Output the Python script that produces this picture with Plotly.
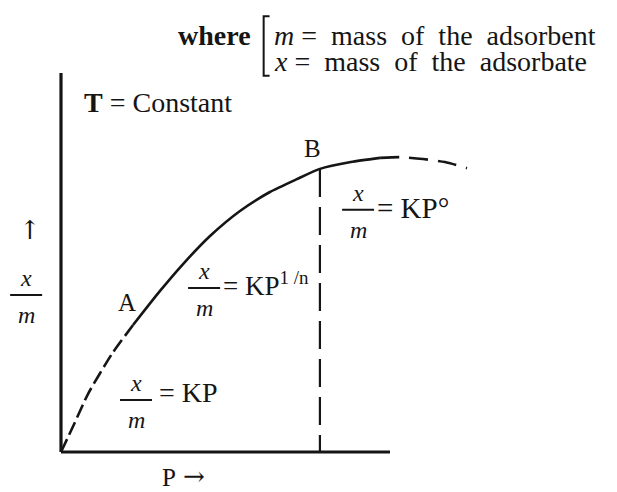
import plotly.graph_objects as go

# Freundlich adsorption isotherm: extent of adsorption x/m against pressure P
# low-pressure branch (x/m = KP), drawn dashed
P_low = [0.0, 0.40, 0.82, 1.55, 2.19]
XM_low = [0.0, 0.74, 1.53, 2.59, 3.35]
# intermediate branch (x/m = KP^(1/n)), drawn solid
P_mid = [2.19, 3.01, 3.71, 4.53, 5.44, 6.35, 7.17, 7.87, 8.81, 9.70]
XM_mid = [3.35, 4.25, 4.96, 5.70, 6.36, 6.86, 7.20, 7.47, 7.65, 7.76]
# saturation branch (x/m = KP^0), drawn dashed
P_high = [9.70, 10.30, 11.00, 11.67, 12.34]
XM_high = [7.76, 7.78, 7.73, 7.65, 7.49]

B_INDEX = 7            # point B on the intermediate branch
A_INDEX = 0            # point A where the solid branch starts
P_AXIS_END = 10.0
XM_AXIS_END = 10.0

W, H = 617, 492
X_RANGE = [-1.854, 16.9]
Y_RANGE = [-1.055, 11.926]

FONT = "Liberation Serif"
ARROW_FONT = "DejaVu Serif"
INK = "#151515"

fig = go.Figure()

# axes
fig.add_trace(go.Scatter(x=[0, P_AXIS_END], y=[0, 0], mode="lines",
                         line=dict(color=INK, width=3.2), hoverinfo="skip"))
fig.add_trace(go.Scatter(x=[0, 0], y=[0, XM_AXIS_END], mode="lines",
                         line=dict(color=INK, width=3.2), hoverinfo="skip"))

# isotherm branches
fig.add_trace(go.Scatter(x=P_low, y=XM_low, mode="lines",
                         line=dict(color=INK, width=2.6, dash="14px,5px",
                                   shape="spline", smoothing=0.6),
                         hoverinfo="skip"))
fig.add_trace(go.Scatter(x=P_mid, y=XM_mid, mode="lines",
                         line=dict(color=INK, width=2.6,
                                   shape="spline", smoothing=0.6),
                         hoverinfo="skip"))
fig.add_trace(go.Scatter(x=P_high, y=XM_high, mode="lines",
                         line=dict(color=INK, width=2.6, dash="19px,10px",
                                   shape="spline", smoothing=0.6),
                         hoverinfo="skip"))

# drop line from B to the pressure axis
P_B, XM_B = P_mid[B_INDEX], XM_mid[B_INDEX]
fig.add_trace(go.Scatter(x=[P_B, P_B], y=[XM_B, 0], mode="lines",
                         line=dict(color=INK, width=2.2, dash="28px,10px"),
                         hoverinfo="skip"))

annotations = []
shapes = []


def text(x, y, s, size=26, xanchor="center", xshift=0, yshift=0, family=FONT):
    annotations.append(dict(x=x, y=y, xref="x", yref="y", text=s,
                            showarrow=False, xanchor=xanchor, yanchor="middle",
                            xshift=xshift, yshift=yshift,
                            font=dict(family=family, size=size, color=INK)))


def frac(x, y, size=24, half=16):
    # x over m with a rule between them
    text(x, y, "<i>x</i>", size=size, yshift=17)
    text(x, y, "<i>m</i>", size=size, yshift=-20)
    shapes.append(dict(type="line", xref="x", yref="y", xsizemode="pixel",
                       xanchor=x, x0=-half, x1=half, y0=y, y1=y,
                       line=dict(color=INK, width=2)))


# legend of symbols
text(4.68, 11.0, "<b>where</b>", size=28)
text(6.40, 11.0, "<i>m</i> =  mass  of  the  adsorbent", size=28, xanchor="left")
text(6.40, 10.30, "<i>x</i> =  mass  of  the  adsorbate", size=28, xanchor="left")
shapes.append(dict(type="path", xref="x", yref="y",
                   path="M 6.34,11.50 L 6.16,11.50 L 6.16,9.93 L 6.34,9.93",
                   line=dict(color=INK, width=2)))

text(0.64, 9.23, "<b>T</b> = Constant", size=28, xanchor="left")

# points A and B
text(P_mid[A_INDEX] - 0.18, XM_mid[A_INDEX] + 0.60, "A", size=25)
text(P_B - 0.24, XM_B + 0.55, "B", size=25)

# axis labels
text(-0.94, 5.86, "↑", size=26, family=ARROW_FONT)
frac(-1.06, 4.14)
text(3.02, -0.66, "P", size=25, xanchor="left")
text(3.66, -0.64, "→", size=26, xanchor="left", family=ARROW_FONT)

# branch equations
frac(2.28, 1.37)
text(2.92, 1.56, "= KP", size=28, xanchor="left")
frac(4.35, 4.33)
text(4.86, 4.43, "= KP<sup>1 /n</sup>", size=27, xanchor="left")
frac(9.03, 6.39)
text(9.54, 6.44, "= KP°", size=29, xanchor="left")

fig.update_layout(
    width=W, height=H,
    margin=dict(l=0, r=0, t=0, b=0),
    paper_bgcolor="white", plot_bgcolor="white",
    showlegend=False,
    xaxis=dict(range=X_RANGE, visible=False, fixedrange=True),
    yaxis=dict(range=Y_RANGE, visible=False, fixedrange=True),
    annotations=annotations,
    shapes=shapes,
)

fig.write_html("out.html", config={"displayModeBar": False})
